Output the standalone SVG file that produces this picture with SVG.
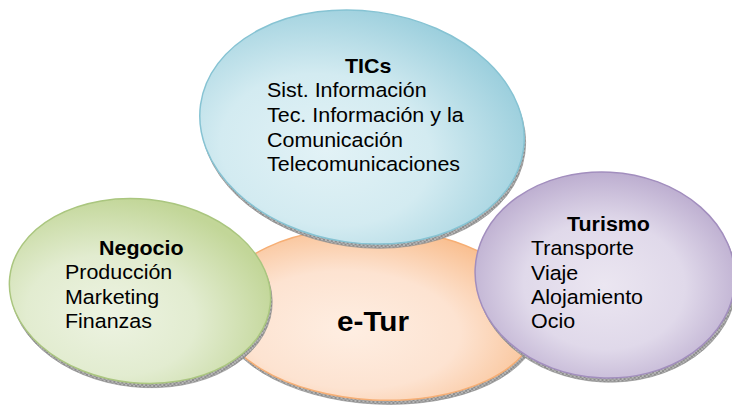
<svg xmlns="http://www.w3.org/2000/svg" width="732" height="405" viewBox="0 0 732 405">
<defs>
<style>
.t{font-family:"Liberation Sans",Arial,sans-serif;font-size:19.5px;fill:#000}
.b{font-weight:bold}
.big{font-family:"Liberation Sans",Arial,sans-serif;font-size:27px;font-weight:bold;fill:#000}
.edge{stroke:#8a8a8a;stroke-width:0.6}
</style>
<pattern id="hatch" width="4" height="4" patternUnits="userSpaceOnUse">
<rect width="4" height="4" fill="#b8b8b8"/>
<path d="M0 4L4 0M0 0L4 4" stroke="#6f6f6f" stroke-width="0.6"/>
</pattern>
<radialGradient id="gBlue" cx="0.4" cy="0.62" r="0.65">
<stop offset="0" stop-color="#e2f2f6"/><stop offset="0.5" stop-color="#d3ebf1"/><stop offset="1" stop-color="#9ccfdd"/>
</radialGradient>
<radialGradient id="gGreen" cx="0.4" cy="0.65" r="0.65">
<stop offset="0" stop-color="#edf3e2"/><stop offset="0.5" stop-color="#e2ecd0"/><stop offset="1" stop-color="#c2d698"/>
</radialGradient>
<radialGradient id="gOrange" cx="0.42" cy="0.6" r="0.62">
<stop offset="0" stop-color="#feeee2"/><stop offset="0.55" stop-color="#fde3d1"/><stop offset="1" stop-color="#f9c092"/>
</radialGradient>
<radialGradient id="gPurple" cx="0.5" cy="0.55" r="0.62">
<stop offset="0" stop-color="#ebe6f1"/><stop offset="0.5" stop-color="#e0d9ea"/><stop offset="1" stop-color="#b2a1c8"/>
</radialGradient>
</defs>
<rect width="732" height="405" fill="#ffffff"/>
<g id="connectors"/>
<g id="etur">
<g transform="rotate(3 377 314)">
<ellipse cx="379" cy="318" rx="160" ry="86" fill="url(#hatch)" class="edge"/>
<ellipse cx="377" cy="314" rx="160" ry="86" fill="url(#gOrange)" stroke="#f6ae74" stroke-width="1.5"/>
</g>
<text class="big" transform="translate(337 331) scale(1.1 1)">e-Tur</text>
</g>
<g id="negocio">
<g transform="rotate(6 140 291)">
<ellipse cx="142" cy="295" rx="131" ry="92" fill="url(#hatch)" class="edge"/>
<ellipse cx="140" cy="291" rx="131" ry="92" fill="url(#gGreen)" stroke="#aac67f" stroke-width="1.5"/>
</g>
<text class="t b" transform="translate(99 255) scale(1.1 1)">Negocio</text>
<text class="t" transform="translate(65 0) scale(1.1 1)"><tspan x="0" y="279">Producción</tspan><tspan x="0" y="304">Marketing</tspan><tspan x="0" y="328">Finanzas</tspan></text>
</g>
<g id="tics">
<g transform="rotate(8 362 127)">
<ellipse cx="364" cy="131" rx="163" ry="116" fill="url(#hatch)" class="edge"/>
<ellipse cx="362" cy="127" rx="163" ry="116" fill="url(#gBlue)" stroke="#86c3d3" stroke-width="1.5"/>
</g>
<text class="t b" transform="translate(345 73) scale(1.1 1)">TICs</text>
<text class="t" transform="translate(267 0) scale(1.1 1)"><tspan x="0" y="97">Sist. Información</tspan><tspan x="0" y="122">Tec. Información y la</tspan><tspan x="0" y="147">Comunicación</tspan><tspan x="0" y="171">Telecomunicaciones</tspan></text>
</g>
<g id="turismo">
<g transform="rotate(3 605 275)">
<ellipse cx="607" cy="279" rx="130" ry="103" fill="url(#hatch)" class="edge"/>
<ellipse cx="605" cy="275" rx="130" ry="103" fill="url(#gPurple)" stroke="#a28ebe" stroke-width="1.5"/>
</g>
<text class="t b" transform="translate(567 231) scale(1.1 1)">Turismo</text>
<text class="t" transform="translate(531 0) scale(1.1 1)"><tspan x="0" y="255">Transporte</tspan><tspan x="0" y="280">Viaje</tspan><tspan x="0" y="304">Alojamiento</tspan><tspan x="0" y="328">Ocio</tspan></text>
</g>
</svg>
